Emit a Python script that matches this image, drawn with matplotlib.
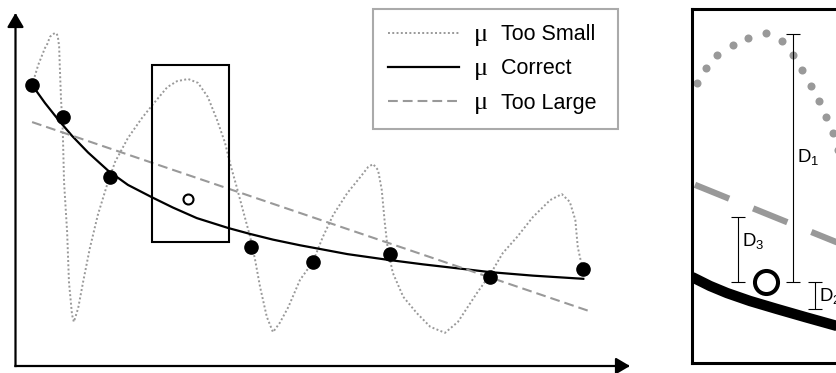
import numpy as np
import matplotlib.pyplot as plt
from matplotlib.patches import Rectangle

plt.rcParams['font.family'] = ['Liberation Sans', 'DejaVu Sans']
plt.rcParams['mathtext.fontset'] = 'custom'
plt.rcParams['mathtext.rm'] = 'Liberation Sans'
plt.rcParams['mathtext.sf'] = 'Liberation Sans'
plt.rcParams['mathtext.it'] = 'Liberation Sans:italic'

GRAY = '#999999'

# ---------------- data (axis units 0..10) ----------------
# observed samples
pts_x = [0.27, 0.77, 1.53, 3.83, 4.84, 6.09, 7.72, 9.23]
pts_y = [7.96, 7.05, 5.36, 3.38, 2.96, 3.17, 2.53, 2.74]
# held-out sample (open circle)
held_x = [2.80]
held_y = [4.72]

# mu too small : wiggly overfit curve
small_x = [0.27, 0.37, 0.48, 0.51, 0.56, 0.59, 0.64, 0.67, 0.69, 0.71, 0.72, 0.74,
           0.77, 0.79, 0.84, 0.87, 0.92, 0.95, 1.02, 1.10, 1.21, 1.34, 1.49, 1.62,
           1.83, 2.06, 2.24, 2.47, 2.63, 2.81, 2.97, 3.13, 3.28, 3.41, 3.49, 3.60,
           3.70, 3.82, 3.90, 3.98, 4.09, 4.19, 4.30, 4.44, 4.63, 4.84, 5.00, 5.17,
           5.40, 5.61, 5.74, 5.82, 5.90, 5.96, 6.01, 6.06, 6.14, 6.31, 6.53, 6.75,
           6.99, 7.20, 7.51, 7.72, 7.93, 8.16, 8.42, 8.70, 8.89, 9.02, 9.11, 9.15,
           9.22]
small_y = [7.96, 8.53, 9.01, 9.09, 9.32, 9.38, 9.43, 9.42, 9.32, 9.05, 8.53, 7.59,
           6.63, 5.21, 3.80, 2.38, 1.45, 1.25, 1.64, 2.38, 3.34, 4.28, 5.13, 5.78,
           6.46, 7.03, 7.42, 7.90, 8.07, 8.13, 8.02, 7.62, 6.97, 6.32, 5.75, 5.07,
           4.42, 3.65, 3.00, 2.24, 1.39, 0.96, 1.22, 1.67, 2.44, 2.95, 3.65, 4.28,
           4.90, 5.35, 5.64, 5.72, 5.55, 4.99, 4.05, 3.29, 2.64, 1.96, 1.50, 1.11,
           0.94, 1.25, 2.07, 2.58, 3.20, 3.65, 4.22, 4.70, 4.87, 4.65, 4.14, 3.37,
           2.81]

# mu correct : smooth decay
correct_x = [0.27, 0.48, 0.69, 0.92, 1.18, 1.51, 1.83, 2.22, 2.56, 2.95, 3.46,
             3.82, 4.19, 4.63, 4.91, 5.40, 6.05, 6.63, 7.23, 7.72, 8.42, 9.24]
correct_y = [7.96, 7.45, 6.99, 6.52, 6.05, 5.53, 5.13, 4.78, 4.49, 4.19, 3.91,
             3.74, 3.58, 3.42, 3.33, 3.17, 3.01, 2.88, 2.76, 2.66, 2.56, 2.47]

# mu too large : almost a straight line
large_x = [0.27, 9.38]
large_y = [6.91, 1.53]

# zoom window
box_x = [2.216, 3.474]
box_y = [3.513, 8.527]

# ---- magnified view of the zoom window ----
zoom_dots_x = [2.259, 2.330, 2.423, 2.549, 2.676, 2.818, 2.949, 3.039, 3.117,
               3.188, 3.256, 3.311, 3.370, 3.411]
zoom_dots_y = [7.475, 7.687, 7.875, 8.017, 8.120, 8.183, 8.074, 7.875, 7.663,
               7.441, 7.224, 6.993, 6.766, 6.530]
zoom_large_x = [2.240, 3.474]
zoom_large_y = [6.037, 5.170]
zoom_correct_x = [2.216, 2.363, 2.502, 2.690, 2.910, 3.139, 3.401, 3.474]
zoom_correct_y = [4.731, 4.604, 4.504, 4.391, 4.278, 4.164, 4.037, 4.001]
zoom_held_x = [2.821]
zoom_held_y = [4.660]

# distances D1, D2, D3
d_names = ['D$_\\mathsf{1}$', 'D$_\\mathsf{2}$', 'D$_\\mathsf{3}$']
d_x = [3.041, 3.221, 2.592]
d_lo = [4.660, 4.278, 4.660]
d_hi = [8.173, 4.660, 5.581]
d_label_y = [6.46, 4.48, 5.26]

labels = ['Too Small ', 'Correct ', 'Too Large ']

# ---------------- figure ----------------
W, H = 837, 373
fig = plt.figure(figsize=(W / 100, H / 100), dpi=100)

ax = fig.add_axes([15.5 / W, 7 / H, 614.5 / W, 353 / H])
ax.set_xlim(0, 10)
ax.set_ylim(0, 10)
ax.axis('off')

arrow_kw = dict(arrowstyle='-|>,head_length=0.85,head_width=0.5', color='black',
                lw=1.6, shrinkA=0, shrinkB=0, mutation_scale=10, capstyle='projecting')
ax.annotate('', xy=(10, 0), xytext=(0, 0), arrowprops=arrow_kw, annotation_clip=False)
ax.annotate('', xy=(0, 10), xytext=(0, 0), arrowprops=arrow_kw, annotation_clip=False)

ax.plot(small_x, small_y, color=GRAY, lw=1.4, linestyle=(0, (1, 1.2)), label=labels[0])
ax.plot(correct_x, correct_y, color='black', lw=1.6, label=labels[1])
ax.plot(large_x, large_y, color=GRAY, lw=1.5, linestyle=(0, (4.7, 2.4)), label=labels[2])

ax.add_patch(Rectangle((box_x[0], box_y[0]), box_x[1] - box_x[0], box_y[1] - box_y[0],
                       fill=False, ec='black', lw=1.5, zorder=3))

ax.plot(pts_x, pts_y, 'o', color='black', ms=9.5, zorder=5)
ax.plot(held_x, held_y, 'o', mfc='white', mec='black', ms=7.2, mew=1.5, zorder=5)

leg = ax.legend(loc='upper right', bbox_to_anchor=(618 / W, 1 - 9 / H),
                bbox_transform=fig.transFigure, borderaxespad=0, fontsize=15.5,
                handlelength=3.3, handletextpad=1.95, labelspacing=0.62, borderpad=0.7,
                fancybox=False, edgecolor='#aaaaaa', framealpha=1)
leg.get_frame().set_linewidth(1.5)

# greek mu in front of each legend label, serif like the original
fig.canvas.draw()
renderer = fig.canvas.get_renderer()
for t in leg.get_texts():
    bb = t.get_window_extent(renderer)
    fig.text((bb.x0 - 13) / W, (bb.y0 + 4.5) / H, '\u03bc', family='Liberation Serif',
             fontsize=19, ha='right', va='baseline')

# ---------------- magnified panel ----------------
ax2 = fig.add_axes([692 / W, 10 / H, 154 / W, 354 / H])
ax2.set_xlim(box_x)
ax2.set_ylim(box_y)
ax2.set_xticks([])
ax2.set_yticks([])
for s in ax2.spines.values():
    s.set_linewidth(2.2)

ax2.plot(zoom_dots_x, zoom_dots_y, 'o', color=GRAY, mec='none', ms=5.8)
ax2.plot(zoom_large_x, zoom_large_y, color=GRAY, lw=4.5, linestyle=(0, (5.9, 4.15)),
         dash_capstyle='butt')
ax2.plot(zoom_correct_x, zoom_correct_y, color='black', lw=7.5, solid_capstyle='butt')
ax2.plot(zoom_held_x, zoom_held_y, 'o', mfc='white', mec='black', ms=16.6, mew=2.9, zorder=5)

d_mid = [(a + b) / 2 for a, b in zip(d_lo, d_hi)]
d_err = [(b - a) / 2 for a, b in zip(d_lo, d_hi)]
ax2.errorbar(d_x, d_mid, yerr=d_err, fmt='none', ecolor='black', elinewidth=0.8,
             capsize=5, capthick=0.8)
for name, x, y in zip(d_names, d_x, d_label_y):
    ax2.annotate(name, xy=(x, y), xytext=(3, -4.8), textcoords='offset points',
                 ha='left', va='baseline', fontsize=13.4)

fig.savefig('out.png', dpi=100)
